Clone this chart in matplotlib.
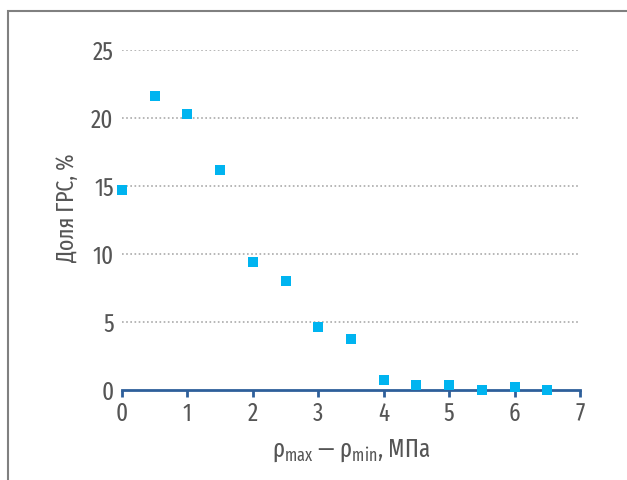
import matplotlib
matplotlib.use('Agg')
import matplotlib.pyplot as plt
from matplotlib.patches import Rectangle

# data
dp = [0, 0.5, 1, 1.5, 2, 2.5, 3, 3.5, 4, 4.5, 5, 5.5, 6, 6.5]
share = [14.7, 21.6, 20.3, 16.2, 9.4, 8.0, 4.6, 3.75, 0.75, 0.35, 0.35, 0.0, 0.2, 0.0]
xticks = [0, 1, 2, 3, 4, 5, 6, 7]
yticks = [0, 5, 10, 15, 20, 25]

font = 'Fira Sans Extra Condensed'
plt.rcParams['font.family'] = [font, 'DejaVu Sans']
plt.rcParams['mathtext.fontset'] = 'custom'
plt.rcParams['mathtext.rm'] = font
plt.rcParams['mathtext.it'] = font
txt = '#555555'

fig = plt.figure(figsize=(6.27, 4.8), dpi=100)
# gray frame round the chart
fig.patches.append(Rectangle((8 / 627, -0.1), 1.2, 1 - 11 / 480 + 0.1,
                             transform=fig.transFigure, fill=False,
                             edgecolor='#808080', linewidth=1.5))

ax = fig.add_axes([122 / 627, 90 / 480, 458 / 627, 340 / 480])
ax.scatter(dp, share, marker='s', s=50, color='#00b4f0', zorder=3, clip_on=False,
           linewidths=0)

ax.set_xlim(0, 7)
ax.set_ylim(0, 25)
ax.set_xticks(xticks)
ax.set_yticks(yticks)

for y in yticks[1:]:
    ax.axhline(y, color='#aaaaaa', linestyle=(0, (1, 1.5)), linewidth=1.2, zorder=1)

for s in ['top', 'right', 'left']:
    ax.spines[s].set_visible(False)
ax.spines['bottom'].set_color('#2e5f9a')
ax.spines['bottom'].set_linewidth(2)
ax.spines['bottom'].set_zorder(2)

ax.tick_params(axis='x', colors='#2e5f9a', length=5, width=2, direction='out',
               labelcolor=txt, labelsize=18, pad=3)
ax.tick_params(axis='y', length=0, labelcolor=txt, labelsize=18, pad=6)

ax.set_xlabel(r'$\mathrm{\rho_{max}}$ — $\mathrm{\rho_{min}}$, МПа', color=txt, fontsize=18, labelpad=8)
ax.set_ylabel('Доля ГРС, %', color=txt, fontsize=17)
ax.yaxis.set_label_coords(-0.095, 0.535)

fig.savefig('out.png', dpi=100)
